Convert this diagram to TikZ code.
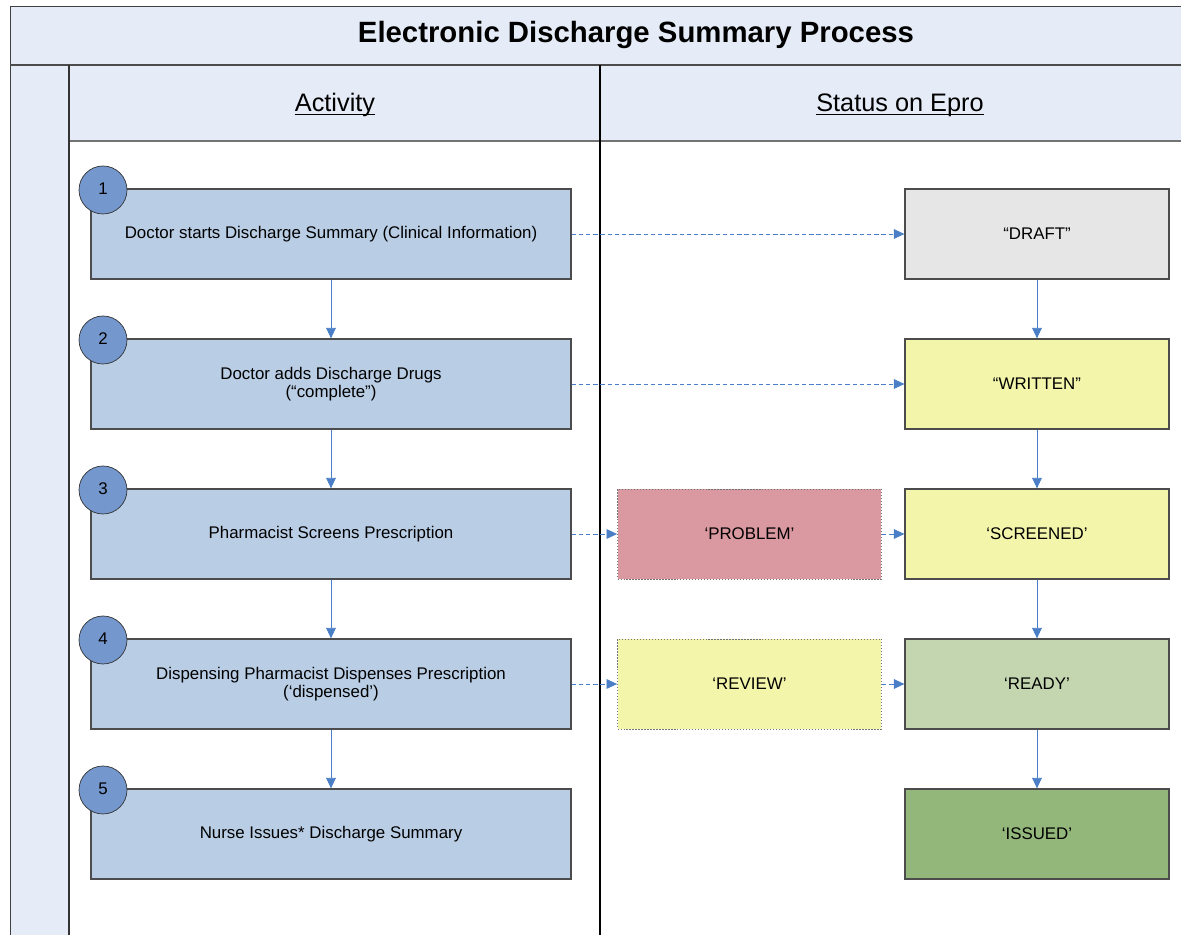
\documentclass[tikz,border=0pt]{standalone}
\usepackage{fontspec}
\setmainfont{Liberation Sans}
\usetikzlibrary{arrows.meta}

\begin{document}
\begin{tikzpicture}
			[x=0.02cm,y=-0.02cm,line cap=butt,
			%Styles
			box text/.style={font=\fontsize{9.6}{10.5}\selectfont,align=center},
			activity/.style={rectangle,draw=black!70,line width=0.7pt,fill=actblue,minimum width=9.6cm,minimum height=1.8cm,box text},
			status/.style={rectangle,draw=black!70,line width=0.7pt,minimum width=5.28cm,minimum height=1.8cm,box text},
			side status/.style={status,draw=black!55,densely dotted,line width=0.5pt},
			number/.style={circle,draw=black!80,fill=numblue,minimum size=0.96cm,inner sep=0pt,font=\fontsize{9.6}{10.5}\selectfont},
			header/.style={font=\fontsize{14.4}{16}\selectfont,inner sep=0pt,anchor=base},
			flow/.style={-{Triangle[length=6pt,width=5.5pt]},draw=linkblue,line width=0.5pt},
			link/.style={flow,dash pattern=on 2.5pt off 1.6pt}
			]
			
			%Colors
			\definecolor{bandblue}{RGB}{230,236,247}
			\definecolor{actblue}{RGB}{185,205,229}
			\definecolor{numblue}{RGB}{116,151,205}
			\definecolor{linkblue}{RGB}{74,126,198}
			\definecolor{draftgrey}{RGB}{230,230,230}
			\definecolor{statyellow}{RGB}{243,245,170}
			\definecolor{probred}{RGB}{218,152,160}
			\definecolor{readygreen}{RGB}{195,214,175}
			\definecolor{issuegreen}{RGB}{147,183,122}
			
			\useasboundingbox (0,0) rectangle (1181,935);
			
			%The frame
			\fill[bandblue] (10,6) rectangle (1181,65);
			\fill[bandblue] (10,65) rectangle (69,935);
			\fill[bandblue] (69,65) rectangle (1181,141);
			\draw[black!75] (10,935) -- (10,6) -- (1181,6);
			\draw[black!70,line width=1.2pt] (10,65) -- (1181,65);
			\draw[black!55,line width=0.8pt] (69,141) -- (1181,141);
			\draw[black!80,line width=0.8pt] (69,65) -- (69,935);
			\draw[black,line width=0.6pt] (600,65) -- (600,935);
			
			\node[font=\fontsize{16.7}{18}\selectfont\bfseries] (title) at (636,35) {Electronic Discharge Summary Process};
			\node[header] (activityhead) at (335,112) {Activity};
			\node[header] (statushead) at (900,112) {Status on Epro};
			\foreach \h in {activityhead,statushead}
				\draw[line width=0.7pt] ([yshift=-1.6pt]\h.base west) -- ([yshift=-1.6pt]\h.base east);
			
			%The graphic
			\node[activity] (A1) at (331,234) {Doctor starts Discharge Summary (Clinical Information)};
			\node[activity] (A2) at (331,384) {Doctor adds Discharge Drugs\\(“complete”)};
			\node[activity] (A3) at (331,534) {Pharmacist Screens Prescription};
			\node[activity] (A4) at (331,684) {Dispensing Pharmacist Dispenses Prescription\\(‘dispensed’)};
			\node[activity] (A5) at (331,834) {Nurse Issues* Discharge Summary};
			
			\foreach \n in {1,...,5}
				\node[number] (N\n) at (103,40+150*\n) {\raisebox{1.5pt}{\n}};
			
			\node[status,fill=draftgrey] (S1) at (1037,234) {“DRAFT”};
			\node[status,fill=statyellow] (S2) at (1037,384) {“WRITTEN”};
			\node[status,fill=statyellow] (S3) at (1037,534) {‘SCREENED’};
			\node[status,fill=readygreen] (S4) at (1037,684) {‘READY’};
			\node[status,fill=issuegreen] (S5) at (1037,834) {‘ISSUED’};
			
			\node[side status,fill=probred] (P) at (749.5,534) {‘PROBLEM’};
			\node[side status,fill=statyellow] (R) at (749.5,684) {‘REVIEW’};
			
			\foreach \a/\b in {A1/A2,A2/A3,A3/A4,A4/A5,S1/S2,S2/S3,S3/S4,S4/S5}
				\draw[flow] (\a) -- (\b);
			\foreach \a/\b in {A1/S1,A2/S2,A3/P,P/S3,A4/R,R/S4}
				\draw[link] (\a) -- (\b);
		\end{tikzpicture}
\end{document}
